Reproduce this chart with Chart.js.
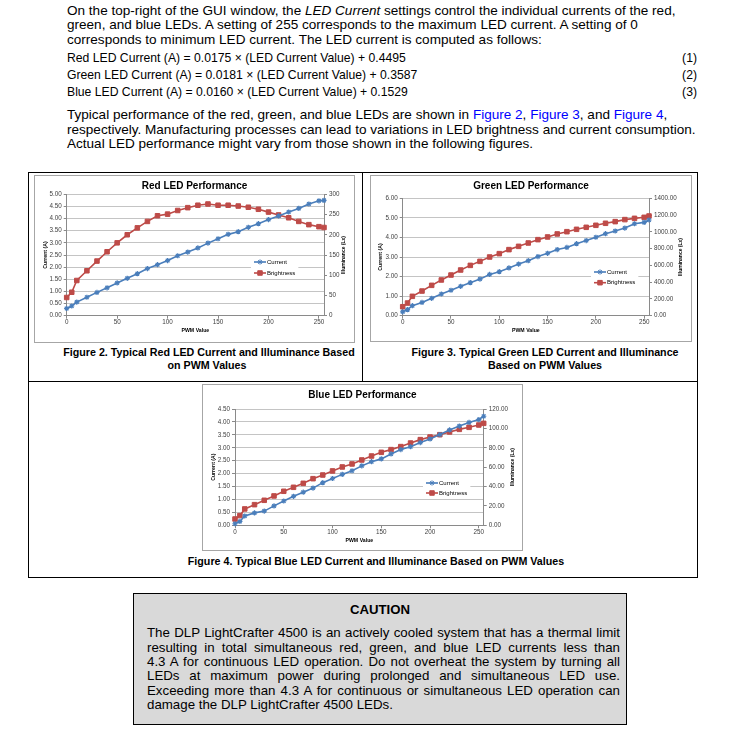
<!DOCTYPE html>
<html><head><meta charset="utf-8">
<script src="https://cdn.jsdelivr.net/npm/chart.js@4.4.0/dist/chart.umd.min.js"></script>
<style>
body{margin:0;background:#fff;width:740px;height:737px;position:relative;overflow:hidden;font-family:"Liberation Sans",Arial,sans-serif;color:#000;}
.l{position:absolute;white-space:nowrap;left:67px;font-size:13.55px;line-height:16px;}
.e{position:absolute;white-space:nowrap;left:67px;font-size:12.2px;line-height:16px;}
.n{position:absolute;white-space:nowrap;right:43px;font-size:12.2px;line-height:16px;}
.lk{color:#0000ff;}
.cap{position:absolute;white-space:nowrap;font-weight:bold;font-size:10.7px;line-height:14px;transform:translateX(-50%);}
.hl{position:absolute;height:1px;background:#000;}
.vl{position:absolute;width:1px;background:#000;}
.frame{position:absolute;border:1px solid #a6a6a6;box-sizing:border-box;}
canvas{position:absolute;}
#caution{position:absolute;left:133px;top:593px;width:494px;height:132px;border:1px solid #000;box-sizing:border-box;background:#d9d9d9;}
.ct{position:absolute;left:0;width:100%;text-align:center;font-weight:bold;font-size:13.2px;line-height:16px;}
.cl{position:absolute;left:13px;width:473px;font-size:13.3px;line-height:16px;text-align:justify;text-align-last:justify;white-space:nowrap;}
.cl.last{text-align-last:left;}
</style></head>
<body>
<div class="l" style="top:3px">On the top-right of the GUI window, the <i>LED Current</i> settings control the individual currents of the red,</div>
<div class="l" style="top:17px">green, and blue LEDs. A setting of 255 corresponds to the maximum LED current. A setting of 0</div>
<div class="l" style="top:31.5px">corresponds to minimum LED current. The LED current is computed as follows:</div>
<div class="e" style="top:50px">Red LED Current (A) = 0.0175 × (LED Current Value) + 0.4495</div>
<div class="n" style="top:50px">(1)</div>
<div class="e" style="top:66.5px">Green LED Current (A) = 0.0181 × (LED Current Value) + 0.3587</div>
<div class="n" style="top:66.5px">(2)</div>
<div class="e" style="top:84px">Blue LED Current (A) = 0.0160 × (LED Current Value) + 0.1529</div>
<div class="n" style="top:84px">(3)</div>
<div class="l" style="top:107px">Typical performance of the red, green, and blue LEDs are shown in <span class="lk">Figure 2</span>, <span class="lk">Figure 3</span>, and <span class="lk">Figure 4</span>,</div>
<div class="l" style="top:121.5px">respectively. Manufacturing processes can lead to variations in LED brightness and current consumption.</div>
<div class="l" style="top:136px">Actual LED performance might vary from those shown in the following figures.</div>

<div class="hl" style="left:28px;width:670px;top:172px"></div>
<div class="hl" style="left:28px;width:670px;top:381px"></div>
<div class="hl" style="left:28px;width:670px;top:577px"></div>
<div class="vl" style="left:28px;top:172px;height:406px"></div>
<div class="vl" style="left:697px;top:172px;height:406px"></div>
<div class="vl" style="left:362px;top:172px;height:209px"></div>

<div class="frame" style="left:34px;top:175px;width:321px;height:168px"></div>
<canvas id="red" width="321" height="168" style="left:34px;top:175px"></canvas>
<div class="frame" style="left:370px;top:175px;width:322px;height:167px"></div>
<canvas id="green" width="322" height="167" style="left:370px;top:175px"></canvas>
<div class="frame" style="left:202px;top:384px;width:321px;height:167px"></div>
<canvas id="blue" width="321" height="167" style="left:202px;top:384px"></canvas>

<div class="cap" style="left:209px;top:345px">Figure 2. Typical Red LED Current and Illuminance Based</div>
<div class="cap" style="left:207px;top:358px">on PWM Values</div>
<div class="cap" style="left:545px;top:345px">Figure 3. Typical Green LED Current and Illuminance</div>
<div class="cap" style="left:545px;top:358px">Based on PWM Values</div>
<div class="cap" style="left:376px;top:554px">Figure 4. Typical Blue LED Current and Illuminance Based on PWM Values</div>

<div id="caution">
<div class="ct" style="top:8px">CAUTION</div>
<div class="cl" style="top:31px">The DLP LightCrafter 4500 is an actively cooled system that has a thermal limit</div>
<div class="cl" style="top:46px">resulting in total simultaneous red, green, and blue LED currents less than</div>
<div class="cl" style="top:60px">4.3 A for continuous LED operation. Do not overheat the system by turning all</div>
<div class="cl" style="top:74px">LEDs at maximum power during prolonged and simultaneous LED use.</div>
<div class="cl" style="top:88.5px">Exceeding more than 4.3 A for continuous or simultaneous LED operation can</div>
<div class="cl last" style="top:103px">damage the DLP LightCrafter 4500 LEDs.</div>
</div>

<script>
// ---- data ----
const pwm = [0,5,10,20,30,40,50,60,70,80,90,100,110,120,130,140,150,160,170,180,190,200,210,220,230,240,250,255];
const pwmTicks = [0,50,100,150,200,250];

const redCurrent = [0.30,0.40,0.56,0.76,0.96,1.15,1.35,1.54,1.73,1.94,2.10,2.27,2.47,2.62,2.79,2.99,3.17,3.35,3.46,3.64,3.79,3.96,4.11,4.27,4.42,4.60,4.73,4.75];
const redBrightness = [45,58,87,111,135,158,180,200,217,233,247,251,260,267,273,276,273,273,271,268,263,256,249,242,233,225,220,218];
const redCurrentTicks = [0,0.5,1,1.5,2,2.5,3,3.5,4,4.5,5];
const redLuxTicks = [0,50,100,150,200,250,300];

const greenCurrent = [0.20,0.31,0.51,0.68,0.89,1.11,1.30,1.50,1.69,1.87,2.11,2.25,2.44,2.64,2.81,3.02,3.19,3.38,3.49,3.68,3.84,4.01,4.19,4.33,4.48,4.70,4.77,4.89];
const greenBrightness = [107,151,231,294,362,426,485,545,600,648,700,740,788,827,867,907,939,975,1002,1030,1054,1078,1102,1122,1146,1161,1173,1189];
const greenCurrentTicks = [0,1,2,3,4,5,6];
const greenLuxTicks = [0,200,400,600,800,1000,1200,1400];

const blueCurrent = [0.06,0.15,0.36,0.48,0.55,0.75,0.94,1.12,1.28,1.44,1.65,1.81,1.97,2.11,2.30,2.46,2.57,2.76,2.93,3.04,3.20,3.34,3.51,3.69,3.84,3.98,4.09,4.22];
const blueBrightness = [6.5,10,16.9,21.3,25.8,30.3,35.1,39.2,43.3,48.1,51.9,56.1,60.2,63.3,67.4,71.5,75.3,78.1,81.2,84.9,88.4,91.1,93.5,96.3,99.0,101.1,103.5,105.2];
const blueCurrentTicks = [0,0.5,1,1.5,2,2.5,3,3.5,4,4.5];
const blueLuxTicks = [0,20,40,60,80,100,120];

const seriesLabels = ['Current','Brightness'];
const xTitle = 'PWM Value';
const leftTitle = 'Current (A)';
const rightTitle = 'Illuminance (Lx)';

// ---- styling ----
const FONT = '"Liberation Sans", Arial, sans-serif';
const BLUE = '#4a7ebb', RED = '#be4b48';
const GRID = '#c4c4c4', AXIS = '#8a8a8a', TICK = '#404040';

const legendBox = {
  id: 'legendBox',
  afterDatasetsDraw(chart, args, o) {
    const ctx = chart.ctx;
    ctx.save();
    ctx.font = '6px ' + FONT;
    let tw = 0;
    chart.data.datasets.forEach(ds => { tw = Math.max(tw, ctx.measureText(ds.label).width); });
    ctx.fillStyle = '#fff';
    ctx.fillRect(o.x - 3, o.y - 5, 13 + tw + 6, o.gap + 10);
    chart.data.datasets.forEach((ds, i) => {
      const yy = o.y + i * o.gap;
      ctx.strokeStyle = ds.borderColor; ctx.lineWidth = ds.borderWidth;
      ctx.beginPath(); ctx.moveTo(o.x, yy); ctx.lineTo(o.x + 12, yy); ctx.stroke();
      ctx.fillStyle = ds.pointBackgroundColor; ctx.strokeStyle = ds.pointBorderColor; ctx.lineWidth = 1;
      Chart.helpers.drawPoint(ctx, {pointStyle: ds.pointStyle, radius: ds.pointRadius, rotation: 0, borderWidth: 1}, o.x + 6, yy);
      ctx.fillStyle = '#000'; ctx.textAlign = 'left'; ctx.textBaseline = 'middle';
      ctx.fillText(ds.label, o.x + 13, yy);
    });
    ctx.restore();
  }
};

const rightAxisTitle = {
  id: 'rightAxisTitle',
  afterDraw(chart, args, o) {
    const ctx = chart.ctx, a = chart.chartArea;
    ctx.save();
    ctx.font = 'bold 5px ' + FONT;
    ctx.fillStyle = '#000'; ctx.textAlign = 'center'; ctx.textBaseline = 'middle';
    ctx.translate(chart.width - o.offset, (a.top + a.bottom) / 2);
    ctx.rotate(-Math.PI / 2);
    ctx.fillText(o.text, 0, 0);
    ctx.restore();
  }
};

function pts(ys) { return pwm.map((x, i) => ({x: x, y: ys[i]})); }

function build(id, o) {
  const tickFont = {family: FONT, size: 6.3};
  const titleFont = {family: FONT, size: 5.2, weight: 'bold'};
  new Chart(document.getElementById(id), {
    type: 'line',
    data: {datasets: [
      {label: seriesLabels[0], data: pts(o.cur), yAxisID: 'y', borderColor: BLUE, backgroundColor: BLUE,
       pointStyle: 'star', pointRadius: 2.6, pointBorderColor: BLUE, pointBackgroundColor: BLUE, pointBorderWidth: 1.2,
       borderWidth: 1.6, tension: 0, clip: 8},
      {label: seriesLabels[1], data: pts(o.lux), yAxisID: 'y1', borderColor: RED, backgroundColor: RED,
       pointStyle: 'rect', pointRadius: 3.2, pointBorderColor: RED, pointBackgroundColor: RED, pointBorderWidth: 1,
       borderWidth: 1.6, tension: 0, clip: 8}
    ]},
    options: {
      responsive: false, animation: false, events: [],
      layout: {padding: 0},
      plugins: {
        legend: {display: false}, tooltip: {enabled: false},
        title: {display: true, text: o.title, color: '#000', font: {family: FONT, size: 10, weight: 'bold'},
                padding: {top: o.tc - 6, bottom: o.top - o.tc - 6}},
        legendBox: {x: o.lx, y: o.ly, gap: o.lg},
        rightAxisTitle: {text: rightTitle, offset: o.rto}
      },
      scales: {
        x: {type: 'linear', position: 'bottom', min: 0, max: 255,
            afterBuildTicks(s) { s.ticks = pwmTicks.map(v => ({value: v})); },
            afterFit(s) { s.height = o.xH; },
            grid: {display: true, drawOnChartArea: false, drawTicks: true, tickLength: 3, color: AXIS},
            border: {display: true, color: AXIS},
            ticks: {font: tickFont, color: TICK, padding: 0, maxRotation: 0, autoSkip: false},
            title: {display: true, text: xTitle, color: '#000', font: titleFont, padding: {top: 0, bottom: o.xtp}}},
        y: {type: 'linear', position: 'left', min: o.curTicks[0], max: o.curTicks[o.curTicks.length - 1],
            afterBuildTicks(s) { s.ticks = o.curTicks.map(v => ({value: v})); },
            afterFit(s) { s.width = o.leftW; },
            grid: {color: GRID, tickLength: 3, tickColor: AXIS},
            border: {display: true, color: AXIS},
            ticks: {font: tickFont, color: TICK, padding: 2, callback: v => Number(v).toFixed(2)},
            title: {display: true, text: leftTitle, color: '#000', font: titleFont, padding: {top: o.ltp, bottom: 0}}},
        y1: {type: 'linear', position: 'right', min: o.luxTicks[0], max: o.luxTicks[o.luxTicks.length - 1],
            afterBuildTicks(s) { s.ticks = o.luxTicks.map(v => ({value: v})); },
            afterFit(s) { s.width = o.rightW; },
            grid: {display: true, drawOnChartArea: false, tickLength: 3, color: AXIS},
            border: {display: true, color: AXIS},
            ticks: {font: tickFont, color: TICK, padding: 2, callback: v => o.luxDec ? Number(v).toFixed(2) : String(v)},
            title: {display: false}}
      }
    },
    plugins: [legendBox, rightAxisTitle]
  });
}

build('red', {title: 'Red LED Performance', cur: redCurrent, lux: redBrightness,
  curTicks: redCurrentTicks, luxTicks: redLuxTicks, luxDec: false,
  tc: 11.7, top: 19.3, leftW: 32.7, rightW: 31, xH: 27.3, xtp: 9.7, ltp: 8.7, rto: 11,
  lx: 220, ly: 87, lg: 11});
build('green', {title: 'Green LED Performance', cur: greenCurrent, lux: greenBrightness,
  curTicks: greenCurrentTicks, luxTicks: greenLuxTicks, luxDec: true,
  tc: 11, top: 23.3, leftW: 32.7, rightW: 43, xH: 26.3, xtp: 8.7, ltp: 7.7, rto: 11,
  lx: 224, ly: 97, lg: 10.7});
build('blue', {title: 'Blue LED Performance', cur: blueCurrent, lux: blueBrightness,
  curTicks: blueCurrentTicks, luxTicks: blueLuxTicks, luxDec: true,
  tc: 11, top: 25, leftW: 33, rightW: 39.3, xH: 25.7, xtp: 7.7, ltp: 8.3, rto: 10.3,
  lx: 224, ly: 99, lg: 10});
</script>
</body></html>
